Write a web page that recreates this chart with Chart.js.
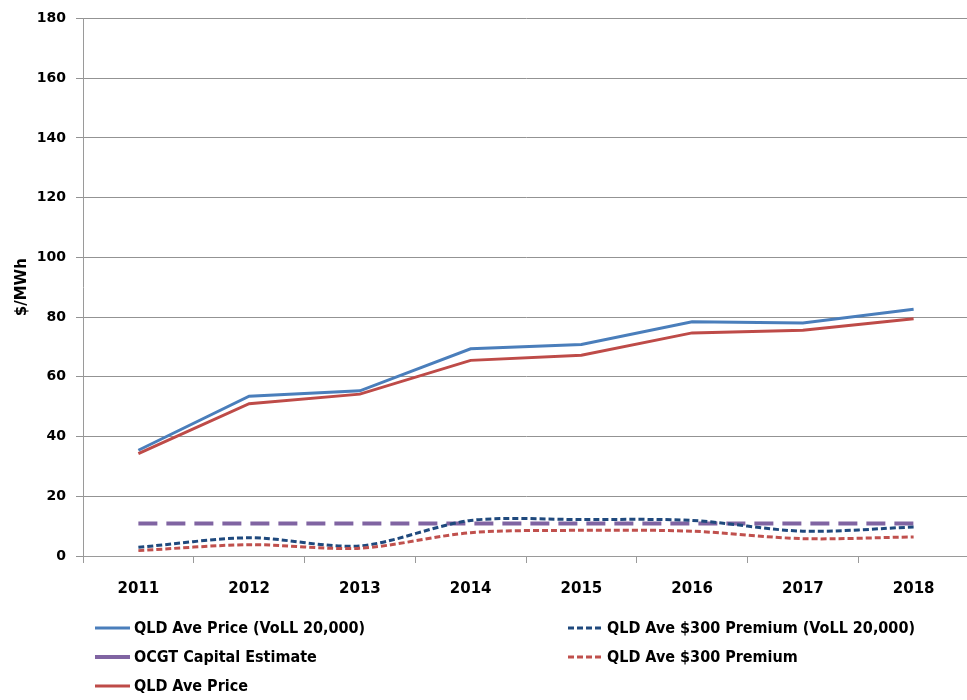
<!DOCTYPE html>
<html>
<head>
<meta charset="utf-8">
<script src="https://cdn.jsdelivr.net/npm/chart.js@4/dist/chart.umd.min.js"></script>
<style>
html,body{margin:0;padding:0;background:#fff;overflow:hidden;}
#wrap{width:972px;height:700px;position:relative;}
</style>
</head>
<body>
<div id="wrap"><canvas id="c"></canvas></div>
<script>
const years = ['2011','2012','2013','2014','2015','2016','2017','2018'];
const yTicks = [0,20,40,60,80,100,120,140,160,180];
const qldPriceVoll = [35.4,53.5,55.3,69.4,70.8,78.4,78.0,82.6];
const qldPremiumVoll = [2.9,6.1,3.4,11.9,12.2,11.9,8.3,9.7];
const ocgtCapital = [10.9,10.9,10.9,10.9,10.9,10.9,10.9,10.9];
const qldPremium = [1.8,3.8,2.6,7.8,8.6,8.3,5.8,6.4];
const qldPrice = [34.3,51.0,54.2,65.5,67.2,74.7,75.6,79.4];
const seriesNames = ['QLD Ave Price (VoLL 20,000)','QLD Ave $300 Premium (VoLL 20,000)','OCGT Capital Estimate','QLD Ave $300 Premium','QLD Ave Price'];

const legendFont = 'bold 16px "Liberation Sans Narrow", "DejaVu Sans Condensed", sans-serif';

const legendPlugin = {
  id:'customLegend',
  afterDraw(chart){
    const ctx = chart.ctx;
    const pos = [[95,628],[568,628],[95,657],[568,657],[95,686]];
    ctx.save();
    pos.forEach((p,di)=>{
      const ds = chart.data.datasets[di];
      const [x,y] = p;
      ctx.strokeStyle = ds.borderColor;
      ctx.lineWidth = di===2 ? 4 : 3;
      ctx.setLineDash(ds.borderDash && di!==2 ? [6,3] : []);
      ctx.beginPath();
      ctx.moveTo(x, y);
      ctx.lineTo(x+35, y);
      ctx.stroke();
      ctx.setLineDash([]);
      ctx.fillStyle = '#000';
      ctx.font = legendFont;
      ctx.textBaseline = 'middle';
      ctx.fillText(ds.label, x+39, y+1);
    });
    ctx.restore();
  }
};

new Chart(document.getElementById('c'), {
  type:'line',
  data:{
    labels: years,
    datasets:[
      {label:seriesNames[0], data:qldPriceVoll, borderColor:'#4A7EBB', borderWidth:3, pointRadius:0, tension:0, order:5},
      {label:seriesNames[1], data:qldPremiumVoll, borderColor:'#1F497D', borderWidth:3, borderDash:[6,3], pointRadius:0, tension:0.3, order:3},
      {label:seriesNames[2], data:ocgtCapital, borderColor:'#8064A2', borderWidth:4, borderDash:[19,9], pointRadius:0, tension:0, order:4},
      {label:seriesNames[3], data:qldPremium, borderColor:'#C0504D', borderWidth:3, borderDash:[6,3], pointRadius:0, tension:0.3, order:2},
      {label:seriesNames[4], data:qldPrice, borderColor:'#BE4B48', borderWidth:3, pointRadius:0, tension:0, order:1}
    ]
  },
  options:{
    responsive:true,
    maintainAspectRatio:false,
    animation:false,
    events:[],
    layout:{padding:{top:17,right:3,bottom:0,left:13}},
    plugins:{legend:{display:false}, tooltip:{enabled:false}},
    scales:{
      x:{
        offset:true,
        grid:{offset:true, drawOnChartArea:false, drawTicks:true, tickLength:7, color:'#9a9a9a'},
        border:{color:'#9a9a9a', width:1},
        ticks:{font:{family:'"DejaVu Sans"', weight:'bold', size:15}, color:'#000', padding:17, maxRotation:0},
        afterFit(s){ s.height = 144; }
      },
      y:{
        min:0, max:180,
        afterBuildTicks(s){ s.ticks = yTicks.map(v=>({value:v})); },
        grid:{color:'#939393', tickLength:7, lineWidth:1},
        border:{color:'#9a9a9a', width:1},
        ticks:{font:{family:'"DejaVu Sans"', weight:'bold', size:14}, color:'#000', padding:10},
        title:{display:true, text:'$/MWh', font:{family:'"DejaVu Sans"', weight:'bold', size:15}, color:'#000', padding:{top:0,bottom:2}},
        afterFit(s){ s.width = 70; }
      }
    }
  },
  plugins:[legendPlugin]
});
</script>
</body>
</html>
